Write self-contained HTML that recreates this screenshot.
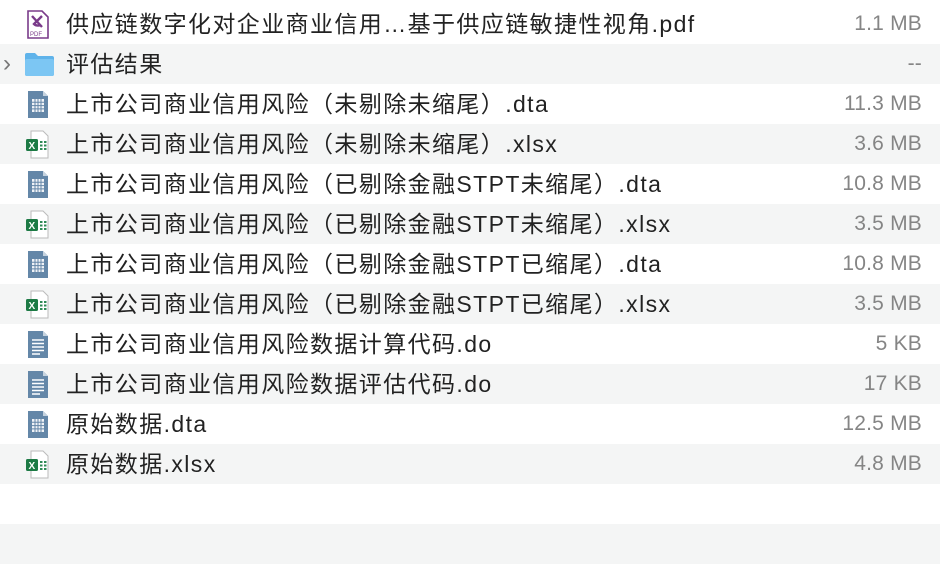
<!DOCTYPE html>
<html><head><meta charset="utf-8"><style>
body{margin:0;width:940px;height:528px;background:#fff;overflow:hidden;font-family:"Liberation Sans","Noto Sans CJK SC",sans-serif;position:relative}
.r{position:absolute;left:0;width:940px;height:40px}
.g{background:#f4f5f5}
.n{position:absolute;left:66px;top:5px;font-size:23px;letter-spacing:1.4px;color:#222;white-space:nowrap;line-height:30px}
.s{position:absolute;right:18px;top:5px;font-size:21px;letter-spacing:0.2px;color:#858585;line-height:30px}
.ic{position:absolute;left:26px;top:6px;width:24px;height:29px}
</style></head><body>
<svg width="0" height="0" style="position:absolute"><defs>
<symbol id="pdf" viewBox="0 0 24 29"><path d="M2 1h14l6 6v21H2z" fill="#fff" stroke="#7a3b8a" stroke-width="1.6"/><path d="M6 6l10 11M16 6 8 14c2 2 4 2 7 1" stroke="#7a3b8a" stroke-width="2.4" fill="none"/><text x="4" y="26" font-size="6" fill="#7a3b8a" font-family="Liberation Sans">PDF</text></symbol>
<symbol id="dta" viewBox="0 0 24 29"><path d="M2 1h15l5 5v22H2z" fill="#6487a8"/><path d="M17 1v5h5z" fill="#c6d3df"/><g fill="#fff"><rect x="6" y="9" width="12" height="13" opacity=".9"/></g><g stroke="#6487a8" stroke-width="1"><path d="M6 12.3h12M6 15.6h12M6 18.9h12M9 9v13M12 9v13M15 9v13"/></g></symbol>
<symbol id="xl" viewBox="0 0 24 29"><path d="M5 1h12l5 5v22H5z" fill="#fff" stroke="#bbb"/><rect x="0" y="9" width="12" height="12" rx="1.5" fill="#1d7a45"/><text x="2.5" y="19" font-size="10" fill="#fff" font-weight="bold" font-family="Liberation Sans">X</text><g fill="#2f8a55"><rect x="14" y="11" width="2.5" height="2"/><rect x="18" y="11" width="2.5" height="2"/><rect x="14" y="14.5" width="2.5" height="2"/><rect x="18" y="14.5" width="2.5" height="2"/><rect x="14" y="18" width="2.5" height="2"/><rect x="18" y="18" width="2.5" height="2"/></g></symbol>
<symbol id="doc" viewBox="0 0 24 29"><path d="M2 1h15l5 5v22H2z" fill="#6487a8"/><path d="M17 1v5h5z" fill="#c6d3df"/><g stroke="#fff" stroke-width="1.6"><path d="M6 10h12M6 13.5h12M6 17h12M6 20.5h12M6 24h8"/></g></symbol>
</defs></svg>

<div class="r" style="top:4px"><svg class="ic"><use href="#pdf"/></svg><div class="n">供应链数字化对企业商业信用…基于供应链敏捷性视角.pdf</div><div class="s">1.1 MB</div></div>
<div class="r g" style="top:44px"><div style="position:absolute;left:3px;top:6px;font-size:24px;color:#777">›</div><svg style="position:absolute;left:24px;top:8px" width="31" height="25"><path d="M1 3a2 2 0 0 1 2-2h8l3 3h14a2 2 0 0 1 2 2v16a2 2 0 0 1-2 2H3a2 2 0 0 1-2-2z" fill="#5fb3ea"/><rect x="1" y="7" width="29" height="17" rx="2" fill="#7cc6f3"/></svg><div class="n">评估结果</div><div class="s">--</div></div>
<div class="r" style="top:84px"><svg class="ic"><use href="#dta"/></svg><div class="n">上市公司商业信用风险（未剔除未缩尾）.dta</div><div class="s">11.3 MB</div></div>
<div class="r g" style="top:124px"><svg class="ic"><use href="#xl"/></svg><div class="n">上市公司商业信用风险（未剔除未缩尾）.xlsx</div><div class="s">3.6 MB</div></div>
<div class="r" style="top:164px"><svg class="ic"><use href="#dta"/></svg><div class="n">上市公司商业信用风险（已剔除金融STPT未缩尾）.dta</div><div class="s">10.8 MB</div></div>
<div class="r g" style="top:204px"><svg class="ic"><use href="#xl"/></svg><div class="n">上市公司商业信用风险（已剔除金融STPT未缩尾）.xlsx</div><div class="s">3.5 MB</div></div>
<div class="r" style="top:244px"><svg class="ic"><use href="#dta"/></svg><div class="n">上市公司商业信用风险（已剔除金融STPT已缩尾）.dta</div><div class="s">10.8 MB</div></div>
<div class="r g" style="top:284px"><svg class="ic"><use href="#xl"/></svg><div class="n">上市公司商业信用风险（已剔除金融STPT已缩尾）.xlsx</div><div class="s">3.5 MB</div></div>
<div class="r" style="top:324px"><svg class="ic"><use href="#doc"/></svg><div class="n">上市公司商业信用风险数据计算代码.do</div><div class="s">5 KB</div></div>
<div class="r g" style="top:364px"><svg class="ic"><use href="#doc"/></svg><div class="n">上市公司商业信用风险数据评估代码.do</div><div class="s">17 KB</div></div>
<div class="r" style="top:404px"><svg class="ic"><use href="#dta"/></svg><div class="n">原始数据.dta</div><div class="s">12.5 MB</div></div>
<div class="r g" style="top:444px"><svg class="ic"><use href="#xl"/></svg><div class="n">原始数据.xlsx</div><div class="s">4.8 MB</div></div>
<div class="r g" style="top:524px"></div>
</body></html>
